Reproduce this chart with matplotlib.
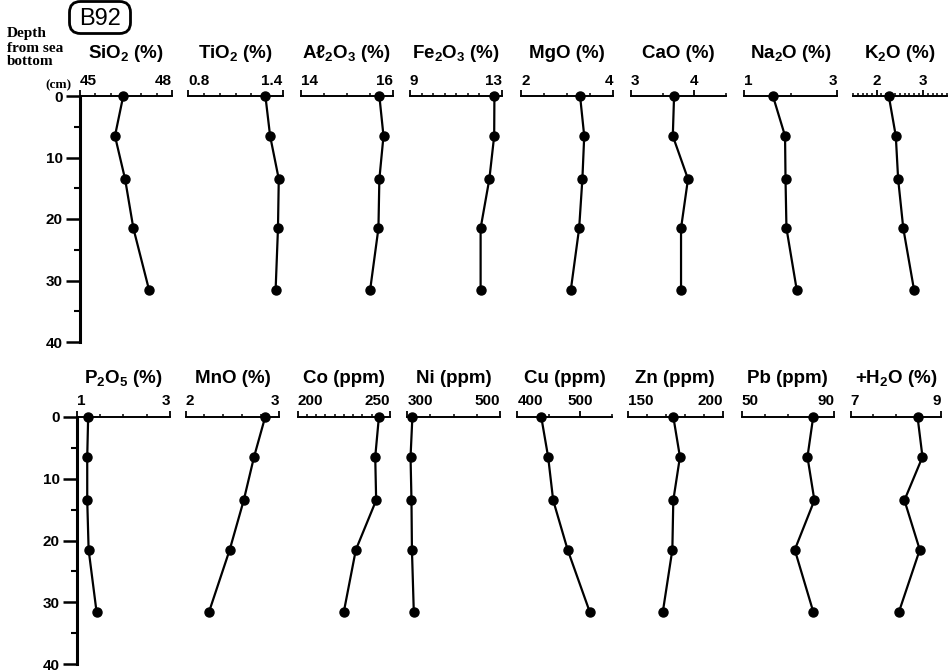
import matplotlib
matplotlib.use("Agg")
import matplotlib.pyplot as plt
from matplotlib.patches import FancyBboxPatch
import numpy as np

plt.rcParams['font.family'] = ['Liberation Sans', 'DejaVu Sans']
plt.rcParams['mathtext.fontset'] = 'custom'
plt.rcParams['mathtext.rm'] = 'Liberation Sans:bold'
plt.rcParams['mathtext.bf'] = 'Liberation Sans:bold'
plt.rcParams['mathtext.it'] = 'Liberation Sans:bold'
plt.rcParams['mathtext.default'] = 'rm'

# ---------------- data ----------------
depth = [0, 6.5, 13.5, 21.5, 31.5]

sio2 = [46.41, 46.14, 46.47, 46.74, 47.25]
tio2 = [1.29, 1.32, 1.375, 1.37, 1.355]
al2o3 = [15.71, 15.80, 15.71, 15.69, 15.51]
fe2o3 = [12.67, 12.66, 12.45, 12.07, 12.07]
mgo = [3.28, 3.37, 3.33, 3.26, 3.08]
cao = [3.68, 3.66, 3.90, 3.79, 3.79]
na2o = [1.62, 1.88, 1.89, 1.91, 2.13]
k2o = [2.26, 2.41, 2.46, 2.57, 2.80]

p2o5 = [1.24, 1.22, 1.22, 1.25, 1.42]
mno = [2.85, 2.73, 2.62, 2.47, 2.25]
co = [244, 242, 242.5, 231.5, 225]
ni = [311, 307, 309, 310, 314]
cu = [438, 449, 457, 480, 515]
zn = [174, 177.5, 174, 173.5, 168.5]
pb = [81, 78.5, 81.5, 73, 81]
h2o = [8.48, 8.59, 8.19, 8.53, 8.07]

titles_top = [r'SiO$_2$ (%)', r'TiO$_2$ (%)', r'Aℓ$_2$O$_3$ (%)', r'Fe$_2$O$_3$ (%)',
              'MgO (%)', 'CaO (%)', r'Na$_2$O (%)', r'K$_2$O (%)']
titles_bot = [r'P$_2$O$_5$ (%)', 'MnO (%)', 'Co (ppm)', 'Ni (ppm)',
              'Cu (ppm)', 'Zn (ppm)', 'Pb (ppm)', r'+H$_2$O (%)']

values_top = [sio2, tio2, al2o3, fe2o3, mgo, cao, na2o, k2o]
values_bot = [p2o5, mno, co, ni, cu, zn, pb, h2o]

# axis ranges, labelled ticks, tick step
ranges_top = [(45, 48), (0.8, 1.4), (14, 16), (9, 13), (2, 4), (3, 4.5), (1, 3), (1.5, 3.5)]
labels_top = [[45, 48], [0.8, 1.4], [14, 16], [9, 13], [2, 4], [3, 4], [1, 3], [2, 3]]
steps_top = [0.5, 0.1, 0.5, 0.5, 0.5, 0.5, 1.0, 0.1]

ranges_bot = [(1, 3), (2, 3), (200, 250), (300, 500), (400, 550), (150, 200), (50, 90), (7, 9)]
labels_bot = [[1, 3], [2, 3], [200, 250], [300, 500], [400, 500], [150, 200], [50, 90], [7, 9]]
steps_bot = [0.5, 0.2, 5, 50, 50, 10, 10, 0.5]

depth_ticks = [0, 10, 20, 30, 40]
depth_minor = [5, 15, 25, 35]

# ---------------- layout (pixels) ----------------
W, H = 949, 672
fig = plt.figure(figsize=(W / 100, H / 100), dpi=100)

xs_top = [(80, 172), (188.3, 282.7), (300.7, 392.7), (410, 502), (521, 613.3),
          (631, 726), (744, 837.3), (853.3, 946.7)]
xs_bot = [(77, 170), (185.7, 279.3), (297.7, 390), (407.3, 500), (517.3, 611.7),
          (627.7, 722.7), (741.7, 834), (850.7, 941)]
row_top = (96, 342, 58)
row_bot = (416.7, 664.3, 383)


def fmt(v):
    return '%g' % v


def make_panel(xr, row, rng, labs, step, vals, title, first):
    x0, x1 = xr
    ytop, ybot, ybase = row
    ax = fig.add_axes([x0 / W, 1 - ybot / H, (x1 - x0) / W, (ybot - ytop) / H])
    ax.set_xlim(*rng)
    ax.set_ylim(40, 0)
    ax.patch.set_alpha(0)
    for s in ['bottom', 'right']:
        ax.spines[s].set_visible(False)
    ax.spines['top'].set_linewidth(1.4)
    ax.xaxis.set_ticks_position('top')
    ax.xaxis.set_label_position('top')
    ax.set_xticks(labs)
    ax.set_xticklabels([fmt(v) for v in labs])
    n = int(round((rng[1] - rng[0]) / step))
    minor = [rng[0] + i * step for i in range(n + 1)]
    ax.set_xticks(minor, minor=True)
    ax.tick_params(axis='x', which='major', direction='out', length=4, width=1.3,
                   pad=2.0, labelsize=11)
    ax.tick_params(axis='x', which='minor', direction='out',
                   length=2.0 if step in (0.1, 5) else 2.5, width=1.1)
    for lab, v in zip(ax.get_xticklabels(), labs):
        lab.set_fontweight('bold')
        if abs(v - rng[0]) < 1e-9:
            lab.set_ha('left')
        elif abs(v - rng[1]) < 1e-9:
            lab.set_ha('right')
        else:
            lab.set_ha('center')
    if first:
        ax.spines['left'].set_linewidth(2.2)
        ax.set_yticks(depth_ticks)
        ax.set_yticklabels([str(d) for d in depth_ticks])
        ax.set_yticks(depth_minor, minor=True)
        ax.tick_params(axis='y', which='major', direction='out', length=10, width=1.8,
                       pad=2.5, labelsize=11)
        ax.tick_params(axis='y', which='minor', direction='out', length=4, width=1.5)
        for lab in ax.get_yticklabels():
            lab.set_fontweight('bold')
    else:
        ax.spines['left'].set_visible(False)
        ax.set_yticks([])
    ax.plot(vals, depth, color='black', lw=1.6, marker='o', ms=6.5,
            markerfacecolor='black', markeredgecolor='black', clip_on=False, zorder=5)
    fig.text((x0 + x1) / 2 / W, 1 - ybase / H, title, ha='center', va='baseline',
             fontsize=13.5, fontweight='bold')
    return ax


for i in range(8):
    make_panel(xs_top[i], row_top, ranges_top[i], labels_top[i], steps_top[i],
               values_top[i], titles_top[i], i == 0)
    make_panel(xs_bot[i], row_bot, ranges_bot[i], labels_bot[i], steps_bot[i],
               values_bot[i], titles_bot[i], i == 0)

# header texts
serif = ['Liberation Serif', 'DejaVu Serif']
fig.text(7 / W, 1 - 37 / H, 'Depth', family=serif, fontweight='bold', fontsize=11,
         ha='left', va='baseline')
fig.text(7 / W, 1 - 52 / H, 'from sea', family=serif, fontweight='bold', fontsize=11,
         ha='left', va='baseline')
fig.text(7 / W, 1 - 65 / H, 'bottom', family=serif, fontweight='bold', fontsize=11,
         ha='left', va='baseline')
fig.text(71 / W, 1 - 88 / H, '(cm)', family=serif, fontweight='bold', fontsize=9.5,
         ha='right', va='baseline')

# sample label in rounded box (box drawn in inch units: x 0.69-1.31, y top 0.03-0.32)
box = FancyBboxPatch((0.74, (H - 29) / 100), 0.52, 0.23,
                     boxstyle='round,pad=0.045,rounding_size=0.11',
                     transform=fig.dpi_scale_trans, fc='white', ec='black', lw=2)
fig.add_artist(box)
fig.text(100 / W, 1 - 25 / H, 'B92', ha='center', va='baseline', fontsize=17,
         fontweight='normal')

fig.savefig('out.png', dpi=100)
